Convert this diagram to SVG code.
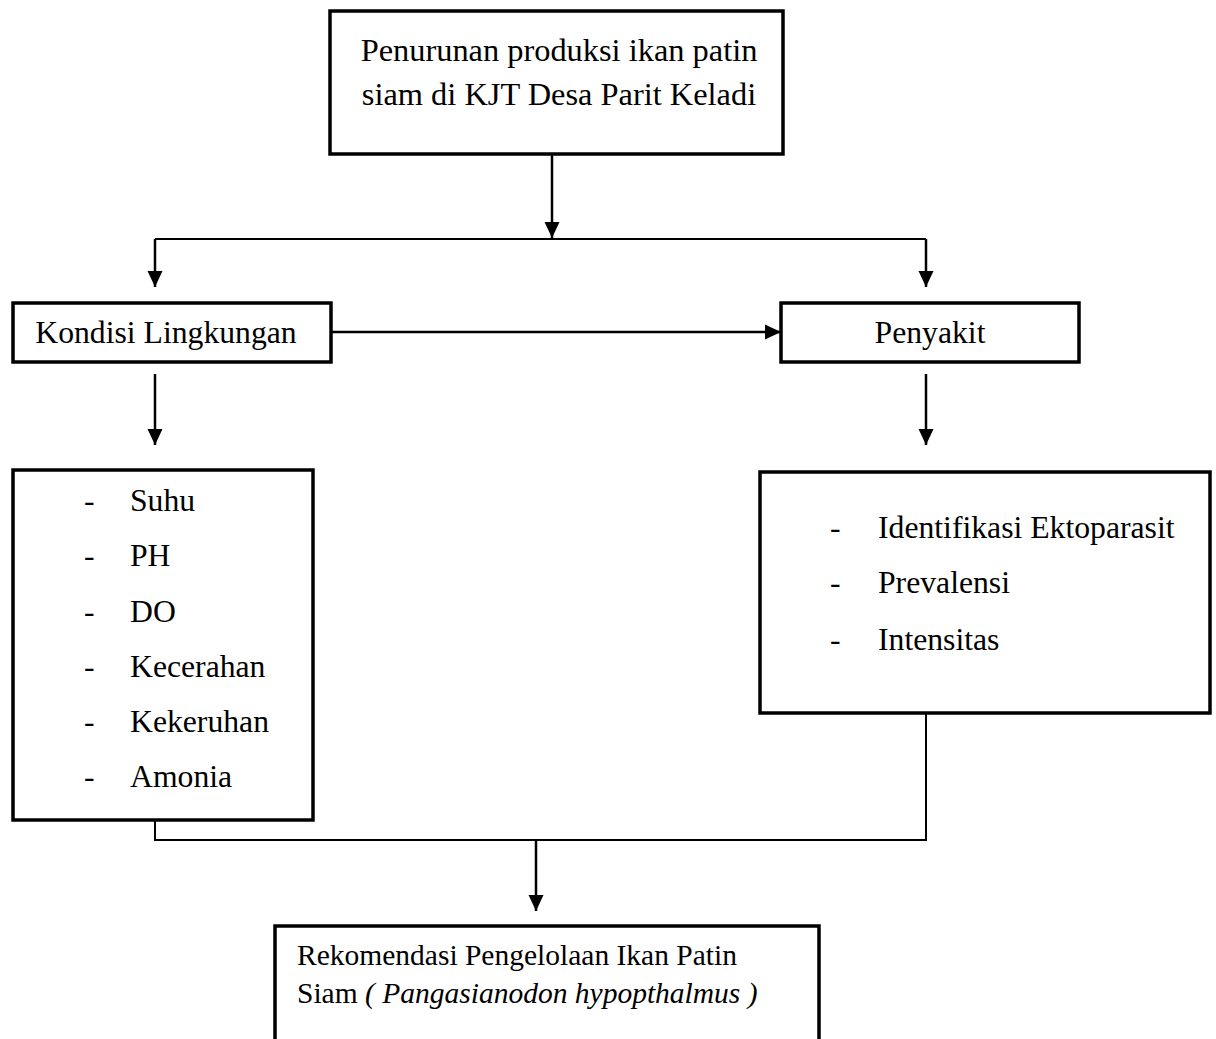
<svg xmlns="http://www.w3.org/2000/svg" width="1216" height="1039" viewBox="0 0 1216 1039">
<style>
.box{fill:#fff;stroke:#000;stroke-width:3.5}
.t{font-family:"Liberation Serif","Times New Roman",serif;font-size:31.7px;fill:#000}
.c{fill:none;stroke:#000;stroke-width:2}
.a{fill:none;stroke:#000;stroke-width:2.5}
</style>
<defs>
<marker id="ah" viewBox="0 0 16 16" refX="16" refY="8" markerWidth="16" markerHeight="16" markerUnits="userSpaceOnUse" orient="auto">
<path d="M0,0.5 L16,8 L0,15.5 Z" fill="#000"/>
</marker>
</defs>
<rect width="1216" height="1039" fill="#fff"/>
<g id="connectors">
<line class="a" x1="552" y1="155" x2="552" y2="238" marker-end="url(#ah)"/>
<path class="c" d="M155,239 H926"/>
<line class="a" x1="155" y1="239" x2="155" y2="287" marker-end="url(#ah)"/>
<line class="a" x1="926" y1="239" x2="926" y2="287" marker-end="url(#ah)"/>
<line class="a" x1="331" y1="332" x2="781" y2="332" marker-end="url(#ah)"/>
<line class="a" x1="155" y1="374" x2="155" y2="445" marker-end="url(#ah)"/>
<line class="a" x1="926" y1="374" x2="926" y2="445" marker-end="url(#ah)"/>
<path class="c" d="M155,820 V840 H926 V713"/>
<line class="a" x1="536" y1="840" x2="536" y2="911" marker-end="url(#ah)"/>
</g>
<g id="node-top">
<rect class="box" x="330" y="11" width="453" height="143"/>
<text class="t" x="559" y="61" text-anchor="middle" style="font-size:32.4px">Penurunan produksi ikan patin</text>
<text class="t" x="559" y="105" text-anchor="middle" style="font-size:32.4px">siam di KJT Desa Parit Keladi</text>
</g>
<g id="node-kondisi">
<rect class="box" x="13" y="303" width="318" height="59"/>
<text class="t" x="166" y="343" text-anchor="middle">Kondisi Lingkungan</text>
</g>
<g id="node-penyakit">
<rect class="box" x="781" y="303" width="298" height="59"/>
<text class="t" x="930" y="343" text-anchor="middle">Penyakit</text>
</g>
<g id="node-parameter">
<rect class="box" x="13" y="470" width="300" height="350"/>
<text class="t" x="84" y="511">-</text><text class="t" x="130" y="511">Suhu</text>
<text class="t" x="84" y="566">-</text><text class="t" x="130" y="566">PH</text>
<text class="t" x="84" y="622">-</text><text class="t" x="130" y="622">DO</text>
<text class="t" x="84" y="677">-</text><text class="t" x="130" y="677">Kecerahan</text>
<text class="t" x="84" y="732">-</text><text class="t" x="130" y="732">Kekeruhan</text>
<text class="t" x="84" y="787">-</text><text class="t" x="130" y="787">Amonia</text>
</g>
<g id="node-ektoparasit">
<rect class="box" x="760" y="472" width="450" height="241"/>
<text class="t" x="830" y="538">-</text><text class="t" x="878" y="538">Identifikasi Ektoparasit</text>
<text class="t" x="830" y="593">-</text><text class="t" x="878" y="593">Prevalensi</text>
<text class="t" x="830" y="650">-</text><text class="t" x="878" y="650">Intensitas</text>
</g>
<g id="node-rekomendasi">
<rect class="box" x="275" y="926" width="544" height="140"/>
<text class="t" x="297" y="965" style="font-size:29.5px">Rekomendasi Pengelolaan Ikan Patin</text>
<text class="t" x="297" y="1003" style="font-size:29.5px">Siam <tspan font-style="italic">( Pangasianodon hypopthalmus )</tspan></text>
</g>
</svg>
